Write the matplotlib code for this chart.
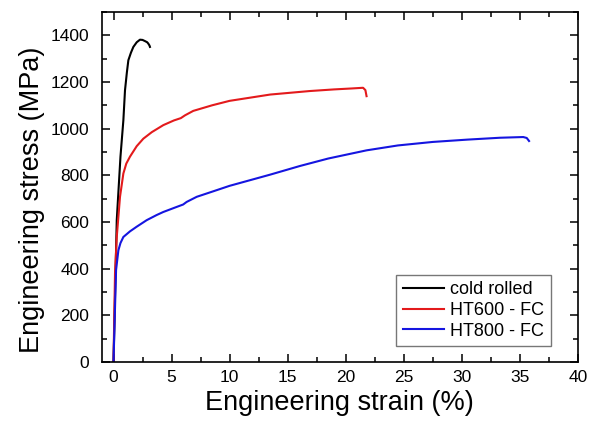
import numpy as np
import matplotlib
matplotlib.use('Agg')
import matplotlib.pyplot as plt
from matplotlib.ticker import MultipleLocator

plt.rcParams['font.family'] = ['Liberation Sans', 'DejaVu Sans']

# strain (%) / stress (MPa)
cold_strain = [0.0, 0.28, 0.6, 0.85, 0.99, 1.15, 1.28, 1.5, 1.71, 2.0, 2.28, 2.5, 2.71, 2.9, 3.0, 3.1, 3.14]
cold_stress = [0, 608, 880, 1036, 1164, 1240, 1293, 1325, 1350, 1370, 1381, 1380, 1375, 1370, 1364, 1356, 1350]

ht600_strain = [0.0, 0.13, 0.28, 0.56, 0.85, 1.1, 1.42, 2.0, 2.57, 3.3, 4.29, 5.2, 5.8, 6.16, 6.87, 8.5, 10.0,
                13.5, 16.9, 19.0, 20.5, 21.5, 21.7, 21.8]
ht600_stress = [0, 380, 536, 708, 808, 850, 880, 925, 957, 985, 1015, 1035, 1045, 1057, 1076, 1100, 1119,
                1146, 1161, 1168, 1172, 1175, 1165, 1139]

ht800_strain = [0.0, 0.22, 0.42, 0.6, 0.85, 1.42, 2.0, 2.86, 3.72, 4.29, 5.3, 6.0, 6.3, 7.17, 8.5, 10.0,
                13.5, 16.06, 18.5, 21.8, 24.5, 27.5, 30.5, 33.3, 35.3, 35.6, 35.8]
ht800_stress = [0, 394, 479, 510, 536, 560, 580, 608, 630, 643, 662, 675, 686, 708, 730, 755,
                803, 840, 872, 907, 928, 943, 953, 961, 964, 960, 947]

labels = ['cold rolled', 'HT600 - FC', 'HT800 - FC']
colors = ['black', '#e31a1c', '#1515e0']

fig = plt.figure(figsize=(5.89, 4.25), dpi=100)
ax = fig.add_axes([0.173, 0.148, 0.808, 0.824])

ax.plot(cold_strain, cold_stress, color=colors[0], lw=1.5, label=labels[0])
ax.plot(ht600_strain, ht600_stress, color=colors[1], lw=1.5, label=labels[1])
ax.plot(ht800_strain, ht800_stress, color=colors[2], lw=1.5, label=labels[2])

ax.set_xlim(-1, 40)
ax.set_ylim(0, 1500)
ax.xaxis.set_major_locator(MultipleLocator(5))
ax.xaxis.set_minor_locator(MultipleLocator(2.5))
ax.yaxis.set_major_locator(MultipleLocator(200))
ax.yaxis.set_minor_locator(MultipleLocator(100))
ax.set_yticks(np.arange(0, 1401, 200))

ax.tick_params(which='both', direction='in', top=True, right=True, width=1.1,
               labelsize=12.5)
ax.tick_params(axis='x', pad=6)
ax.tick_params(axis='y', pad=9)
ax.tick_params(which='major', length=6)
ax.tick_params(which='minor', length=3.5)
for sp in ax.spines.values():
    sp.set_linewidth(1.2)

ax.set_xlabel('Engineering strain (%)', fontsize=19.5, labelpad=3)
ax.set_ylabel('Engineering stress (MPa)', fontsize=19.5)
ax.yaxis.set_label_coords(-0.12, 0.463)

leg = ax.legend(loc='lower right', fontsize=13, frameon=True, fancybox=False,
                edgecolor='#555555', handlelength=2.3, handletextpad=0.35,
                borderpad=0.35, borderaxespad=0, labelspacing=0.2,
                bbox_to_anchor=(0.943, 0.046))
leg.get_frame().set_linewidth(1.0)

fig.savefig('out.png', dpi=100)
